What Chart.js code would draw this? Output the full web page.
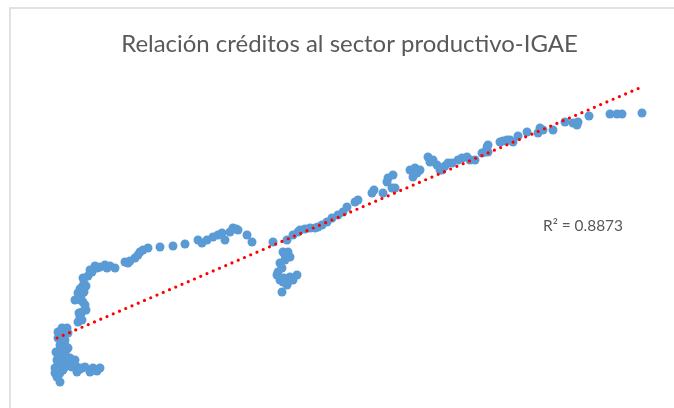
<!DOCTYPE html>
<html><head><meta charset="utf-8">
<script src="https://cdn.jsdelivr.net/npm/chart.js@4.4.1/dist/chart.umd.min.js"></script>
<style>html,body{margin:0;padding:0;background:#fff;overflow:hidden}#wrap{position:relative;width:674px;height:408px}</style>
</head><body><div id="wrap"><canvas id="c"></canvas></div>
<script>
const titleText = 'Relación créditos al sector productivo-IGAE';
const r2Text = 'R² = 0.8873';

// Créditos al sector productivo (índice arbitrario)
const creditX = [
  5,5,7,8,8,10,10,10,10,12,12,13,13,15,15,15,16,18,18,20,20,22,25,27,27,30,32,35,40,43,45,47,50,
  6,8,10,12,14,16,13,15,8,7,20,23,25,18,10,12,8,
  10,8,12,17,18,13,15,
  28,30,32,35,33,36,25,28,32,34,33,38,42,45,50,55,60,65,75,78,80,85,88,90,93,98,110,123,135,148,152,157,163,168,172,175,180,183,186,188,197,202,
  30,31,34,30,36,40,47,57,32,29,
  223,233,238,240,235,230,232,227,230,233,238,240,247,237,232,
  235,228,234,243,
  237,243,248,250,255,260,265,268,272,277,282,288,293,297,305,308,322,324,333,337,342,345,343,338,
  360,363,365,367,370,363,378,383,380,387,390,392,398,402,408,412,417,420,425,432,435,437,438,438,
  395,
  450,453,457,460,463,468,477,488,490,493,503,515,523,527,528,539,560,567,572,592
];
// IGAE (índice arbitrario)
const igaeY = [
  27,32,40,37,24,18,27,50,44,43,35,52,57,47,60,38,42,40,35,35,42,33,33,28,33,31,32,33,28,32,30,29,32,
  48,45,40,38,44,50,30,33,32,23,38,38,40,52,55,68,62,
  62,68,72,72,67,65,55,
  78,83,88,95,98,90,100,107,113,117,122,124,128,134,133,135,134,132,138,137,139,142,145,148,150,152,153,154,156,160,157,160,163,165,167,160,168,172,171,170,165,158,
  100,104,108,111,114,130,132,132,80,87,
  158,148,148,143,140,137,132,125,120,118,118,123,125,115,108,
  145,128,122,120,
  160,165,168,170,171,172,172,173,175,178,182,185,188,193,198,200,207,210,207,218,212,212,225,222,
  230,223,232,227,230,228,243,240,238,235,230,230,237,237,240,242,243,240,240,247,248,253,255,248,
  234,
  258,259,260,260,258,264,268,267,272,270,270,278,277,275,278,284,286,286,286,287
];
// Línea de tendencia lineal (extremos)
const trendX = [7, 594];
const trendY = [62, 314];

function fitSize(text, family, target) {
  const c = document.createElement('canvas').getContext('2d');
  c.font = '100px ' + family;
  return 100 * target / c.measureText(text).width;
}
const FAMILY = 'Lato';
const tSize = fitSize(titleText, FAMILY, 457);
const rSize = fitSize(r2Text, FAMILY, 80);
const titleCenterY = 44;
const padTop = titleCenterY - tSize * 0.6;
const areaTop = padTop + tSize * 1.2;

const points = creditX.map((x, i) => ({x: x, y: igaeY[i]}));
const trend = trendX.map((x, i) => ({x: x, y: trendY[i]}));

const decor = {
  id: 'decor',
  beforeDraw(chart) {
    const ctx = chart.ctx;
    ctx.save();
    ctx.fillStyle = '#ffffff';
    ctx.fillRect(0, 0, chart.width, chart.height);
    ctx.strokeStyle = '#d9d9d9';
    ctx.lineWidth = 1.5;
    ctx.beginPath();
    ctx.moveTo(10, chart.height);
    ctx.lineTo(10, 8);
    ctx.lineTo(chart.width, 8);
    ctx.stroke();
    ctx.restore();
  },
  afterDraw(chart) {
    const ctx = chart.ctx;
    ctx.save();
    ctx.fillStyle = '#595959';
    ctx.font = rSize + 'px ' + FAMILY;
    ctx.textAlign = 'left';
    ctx.textBaseline = 'middle';
    ctx.fillText(r2Text, 543, 226);
    ctx.restore();
  }
};

new Chart(document.getElementById('c'), {
  type: 'scatter',
  data: {
    datasets: [
      {
        label: 'Tendencia',
        data: trend,
        showLine: true,
        borderColor: '#ff0000',
        borderWidth: 3.2,
        borderDash: [0, 6.8],
        borderCapStyle: 'round',
        pointRadius: 0,
        pointHoverRadius: 0,
        fill: false,
        order: 0,
        clip: false
      },
      {
        label: 'Créditos-IGAE',
        data: points,
        backgroundColor: '#5b9bd5',
        borderWidth: 0,
        pointRadius: 4.5,
        pointHoverRadius: 4.5,
        order: 1,
        clip: false
      }
    ]
  },
  options: {
    responsive: true,
    maintainAspectRatio: false,
    animation: false,
    devicePixelRatio: 1,
    layout: {autoPadding: false, padding: {left: 25, right: 0, top: 0, bottom: 0}},
    plugins: {
      legend: {display: false},
      tooltip: {enabled: false},
      title: {
        display: true,
        text: titleText,
        color: '#595959',
        font: {family: FAMILY, size: tSize, weight: 'normal', lineHeight: 1.2},
        padding: {top: padTop, bottom: 0}
      }
    },
    scales: {
      x: {type: 'linear', display: false, min: -25, max: 624},
      y: {type: 'linear', display: false, min: -8, max: 400 - areaTop}
    }
  },
  plugins: [decor]
});
</script>
</body></html>
